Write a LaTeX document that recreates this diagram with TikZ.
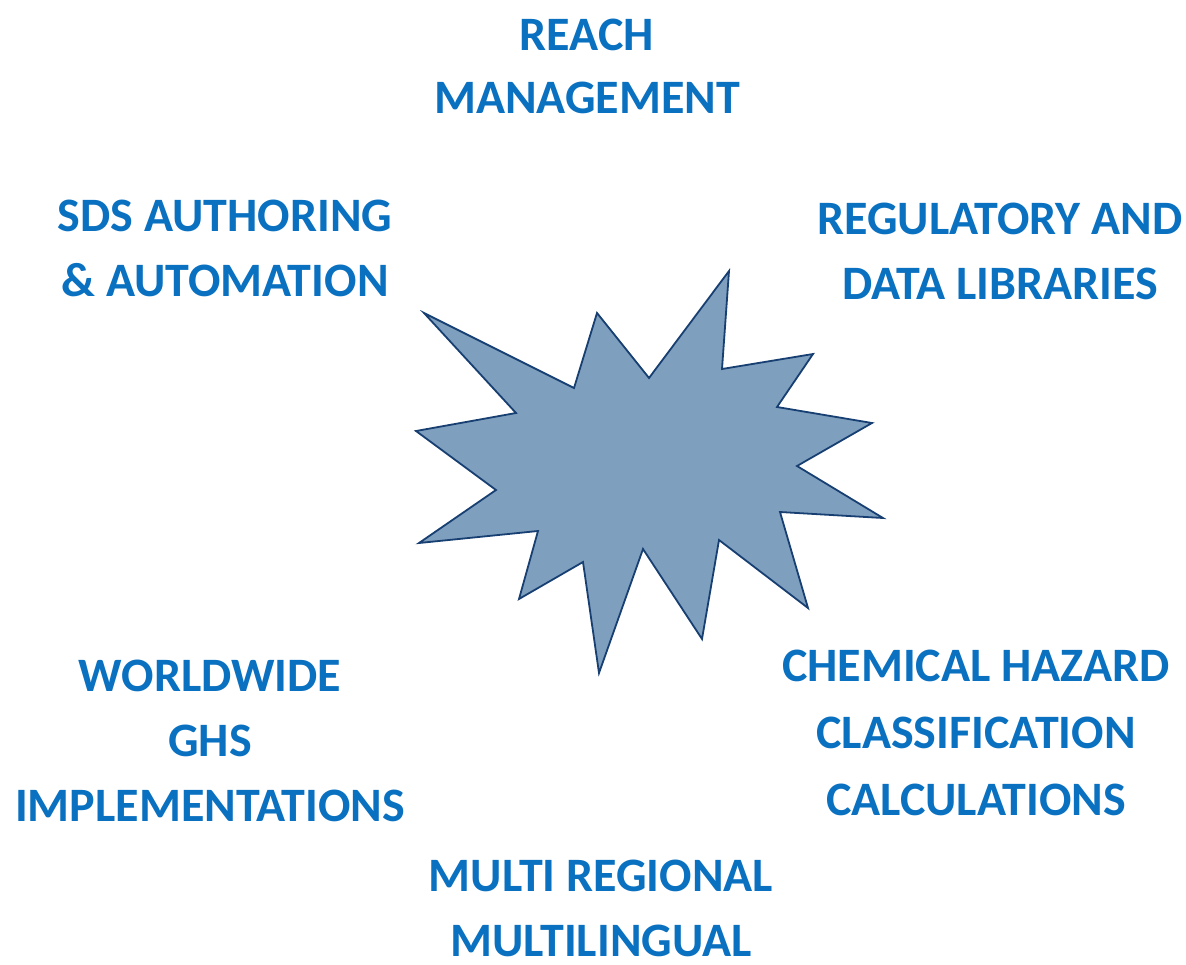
\documentclass[tikz,border=0pt]{standalone}
\usepackage{fontspec}
\setmainfont{Carlito}
\definecolor{txtblue}{HTML}{0A70C0}
\definecolor{starfill}{HTML}{7F9FBF}
\definecolor{starline}{HTML}{173F72}
\begin{document}
\begin{tikzpicture}[x=1pt,y=-1pt,
  lbl/.style={text=txtblue,font=\fontsize{48}{65}\selectfont\bfseries,align=center,inner sep=0pt},
  starshape/.style={fill=starfill,draw=starline,line width=1.8pt,line join=miter}]
\useasboundingbox (0,0) rectangle (1186,964);
\draw[starshape] (424,313) -- (574,388) -- (597,313) -- (649,378) -- (729,271) -- (722,369)
  -- (813,354) -- (777,407) -- (872,423) -- (797,466) -- (883,518) -- (780,512)
  -- (808,608) -- (719,540) -- (702,639) -- (643,549) -- (599,673) -- (583,562)
  -- (519,599) -- (538,531) -- (419,543) -- (496,490) -- (416,431) -- (516,413) -- cycle;
\node[lbl,font=\fontsize{48}{63}\selectfont\bfseries] (reach) at (587,66) {REACH\\MANAGEMENT};
\node[lbl] (sds) at (225,248) {SDS AUTHORING\\\& AUTOMATION};
\node[lbl] (reg) at (1000,251) {REGULATORY AND\\DATA LIBRARIES};
\node[lbl] (ghs) at (210,741) {WORLDWIDE\\GHS\\IMPLEMENTATIONS};
\node[lbl,font=\fontsize{48}{67}\selectfont\bfseries] (chem) at (976,733) {CHEMICAL HAZARD\\CLASSIFICATION\\CALCULATIONS};
\node[lbl] (multi) at (601,908) {MULTI REGIONAL\\MULTILINGUAL};
\end{tikzpicture}
\end{document}
